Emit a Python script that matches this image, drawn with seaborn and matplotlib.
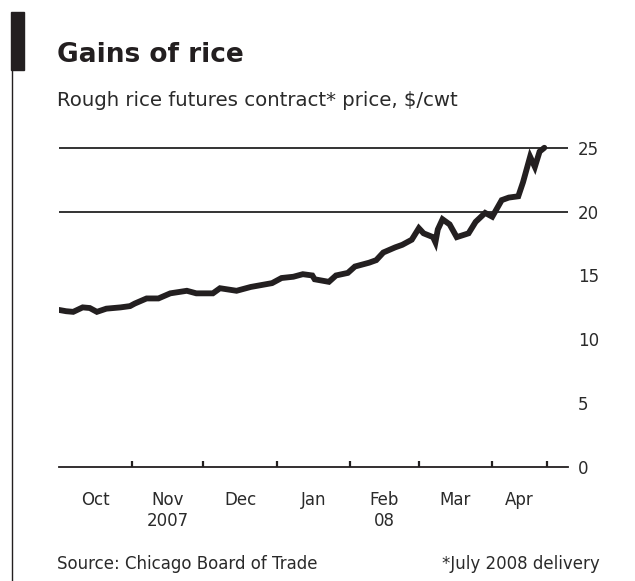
import pandas as pd
import numpy as np
import seaborn as sns
import matplotlib.pyplot as plt
import matplotlib.dates as mdates
import matplotlib.transforms as mtransforms
from matplotlib.patches import Rectangle
from matplotlib.lines import Line2D

### DATA

dates = ['2007-10-01', '2007-10-04', '2007-10-07', '2007-10-11', '2007-10-14',
         '2007-10-17', '2007-10-21', '2007-10-27', '2007-10-31',
         '2007-11-02', '2007-11-07', '2007-11-12', '2007-11-17', '2007-11-24',
         '2007-11-28', '2007-12-05', '2007-12-08', '2007-12-15', '2007-12-21',
         '2007-12-30', '2008-01-03', '2008-01-08', '2008-01-12', '2008-01-16',
         '2008-01-17', '2008-01-23', '2008-01-26', '2008-01-31', '2008-02-03',
         '2008-02-09', '2008-02-12', '2008-02-15', '2008-02-20', '2008-02-23',
         '2008-02-27', '2008-03-01', '2008-03-03', '2008-03-07', '2008-03-08',
         '2008-03-09', '2008-03-11', '2008-03-14', '2008-03-17', '2008-03-22',
         '2008-03-25', '2008-03-29', '2008-04-01', '2008-04-05', '2008-04-08',
         '2008-04-12', '2008-04-14', '2008-04-17', '2008-04-19', '2008-04-21',
         '2008-04-23']
price = [12.3, 12.2, 12.15, 12.5, 12.45,
         12.15, 12.4, 12.5, 12.6,
         12.8, 13.2, 13.2, 13.6, 13.8,
         13.6, 13.6, 14.0, 13.8, 14.1,
         14.4, 14.8, 14.9, 15.1, 15.0,
         14.7, 14.5, 15.0, 15.2, 15.7,
         16.0, 16.2, 16.8, 17.2, 17.4,
         17.8, 18.7, 18.3, 18.0, 17.6,
         18.6, 19.4, 19.0, 18.0, 18.3,
         19.2, 19.9, 19.6, 20.9, 21.1,
         21.2, 22.3, 24.3, 23.5, 24.7,
         25.0]

month_starts = ['2007-10-01', '2007-11-01', '2007-12-01', '2008-01-01',
                '2008-02-01', '2008-03-01', '2008-04-01', '2008-04-24']
month_labels = ['Oct', 'Nov', 'Dec', 'Jan', 'Feb', 'Mar', 'Apr']
year_labels = {'2007': 1, '08': 4}   # label -> index of month it sits under
y_ticks = [0, 5, 10, 15, 20, 25]
grid_levels = [20, 25]

df = pd.DataFrame({'date': pd.to_datetime(dates), 'price': price})
bounds = pd.to_datetime(month_starts)
mids = [bounds[i] + (bounds[i + 1] - bounds[i]) / 2 for i in range(len(bounds) - 1)]

ink = '#231f20'
txt = '#2a2a2a'

sns.set_style('white')
plt.rcParams['font.family'] = ['DejaVu Sans']

fig = plt.figure(figsize=(6.35, 5.81), dpi=100)
ax = fig.add_axes([59 / 635, 1 - 467 / 581, (568 - 59) / 635, (467 - 135) / 581])

for lvl in grid_levels:
    ax.axhline(lvl, color='#333333', lw=1.4, zorder=1)

sns.lineplot(data=df, x='date', y='price', ax=ax, color=ink, lw=4.2,
             solid_joinstyle='miter', zorder=3)

ax.set_xlim(pd.Timestamp('2007-10-01'), pd.Timestamp('2008-05-03'))
ax.set_ylim(0, 26)

for s in ['top', 'left', 'right']:
    ax.spines[s].set_visible(False)
ax.spines['bottom'].set_color(ink)
ax.spines['bottom'].set_linewidth(1.3)

ax.set_xticks(bounds[1:])
ax.tick_params(axis='x', which='major', direction='in', length=4, width=1.6,
               color=ink, labelbottom=False, bottom=True)
ax.set_xticks(mids, minor=True)
ax.set_xticklabels(month_labels, minor=True)
ax.tick_params(axis='x', which='minor', length=0, pad=17, labelsize=12,
               labelcolor=txt)

ax.yaxis.tick_right()
ax.set_yticks(y_ticks)
ax.set_yticklabels([str(v) for v in y_ticks])
ax.tick_params(axis='y', length=0, pad=7, labelsize=12, labelcolor=txt)
for lab in ax.get_yticklabels():
    lab.set_horizontalalignment('left')

ax.set_xlabel('')
ax.set_ylabel('')

trans = mtransforms.blended_transform_factory(ax.transData, fig.transFigure)
for lab, i in year_labels.items():
    ax.text(mids[i], 1 - 521 / 581, lab, transform=trans, ha='center',
            va='center', fontsize=12, color=txt)

# header, side rule and footer
fig.patches.append(Rectangle((11 / 635, 1 - 70 / 581), 13 / 635, 58 / 581,
                             transform=fig.transFigure, color=ink, zorder=5))
fig.lines.append(Line2D([11.5 / 635, 11.5 / 635], [0, 1 - 70 / 581],
                        transform=fig.transFigure, color=ink, lw=1.0))

fig.text(57 / 635, 1 - 55 / 581, 'Gains of rice', fontsize=19, fontweight='bold',
         color=ink, va='center')
fig.text(57 / 635, 1 - 101 / 581, 'Rough rice futures contract* price, $/cwt',
         fontsize=14.2, color=txt, va='center')
fig.text(57 / 635, 1 - 564 / 581, 'Source: Chicago Board of Trade',
         fontsize=12, color=txt, va='center')
fig.text(600 / 635, 1 - 564 / 581, '*July 2008 delivery',
         fontsize=12, color=txt, va='center', ha='right')

fig.savefig('out.png', dpi=100)
